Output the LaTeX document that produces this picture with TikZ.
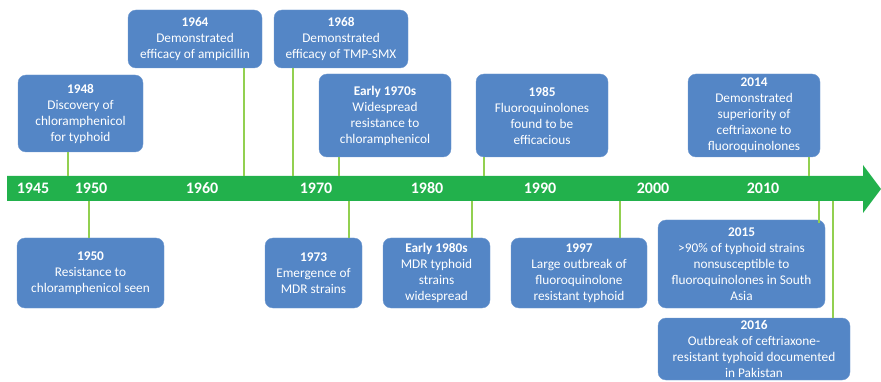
\documentclass[tikz,border=0pt]{standalone}
\usepackage{fontspec}
\setmainfont{Carlito}

\definecolor{barGreen}{RGB}{34,177,76}
\definecolor{stemGreen}{RGB}{146,208,80}
\definecolor{boxBlue}{RGB}{84,134,198}

\begin{document}
\begin{tikzpicture}[x=1pt, y=-1pt,
    event/.style={rectangle, rounded corners=8pt, fill=boxBlue, draw=boxBlue!85!white,
        text=white, align=center, inner sep=2pt,
        font=\fontsize{13.3}{16}\selectfont},
    year/.style={text=white, font=\fontsize{16}{19}\selectfont\bfseries},
    stem/.style={stemGreen, line width=2.2pt}]

\useasboundingbox (0,0) rectangle (881,382);

% Timeline arrow
\fill[barGreen] (7,176) -- (863,176) -- (863,165) -- (881,189)
    -- (863,213) -- (863,201) -- (7,201) -- cycle;

\node[year] (y1945) at (33,188.5) {1945};
\node[year] (y1950) at (91,188.5) {1950};
\node[year] (y1960) at (202,188.5) {1960};
\node[year] (y1970) at (316,188.5) {1970};
\node[year] (y1980) at (427,188.5) {1980};
\node[year] (y1990) at (540,188.5) {1990};
\node[year] (y2000) at (653,188.5) {2000};
\node[year] (y2010) at (763,188.5) {2010};

% Events above the line
\node[event, minimum width=125pt, minimum height=77pt] (b1948) at (80.5,113.5)
    {\textbf{1948}\\Discovery of\\chloramphenicol\\for typhoid};
\node[event, minimum width=134pt, minimum height=58pt] (b1964) at (195,39)
    {\textbf{1964}\\Demonstrated\\efficacy of ampicillin};
\node[event, minimum width=134pt, minimum height=58pt] (b1968) at (341,39)
    {\textbf{1968}\\Demonstrated\\efficacy of TMP-SMX};
\node[event, minimum width=132pt, minimum height=83pt] (b1970s) at (385,115.5)
    {\textbf{Early 1970s}\\Widespread\\resistance to\\chloramphenicol};
\node[event, minimum width=132pt, minimum height=83pt] (b1985) at (542,115.5)
    {\textbf{1985}\\Fluoroquinolones\\found to be\\efficacious};
\node[event, minimum width=132pt, minimum height=83pt] (b2014) at (754,115.5)
    {\textbf{2014}\\Demonstrated\\superiority of\\ceftriaxone to\\fluoroquinolones};

\coordinate (s1948) at (68,176);
\coordinate (s1964) at (244,176);
\coordinate (s1968) at (293,176);
\coordinate (s1970s) at (339,176);
\coordinate (s1985) at (484,176);
\coordinate (s2014) at (809,176);
\draw[stem] (s1948) -- (s1948 |- b1948.south);
\draw[stem] (s1964) -- (s1964 |- b1964.south);
\draw[stem] (s1968) -- (s1968 |- b1968.south);
\draw[stem] (s1970s) -- (s1970s |- b1970s.south);
\draw[stem] (s1985) -- (s1985 |- b1985.south);
\draw[stem] (s2014) -- (s2014 |- b2014.south);

% Events below the line
\node[event, minimum width=147pt, minimum height=70pt] (t1950) at (90.5,273)
    {\textbf{1950}\\Resistance to\\chloramphenicol seen};
\node[event, minimum width=97pt, minimum height=70pt] (t1973) at (313.5,273)
    {\textbf{1973}\\Emergence of\\MDR strains};
\node[event, minimum width=107pt, minimum height=70pt] (t1980s) at (436.5,273)
    {\textbf{Early 1980s}\\MDR typhoid\\strains\\widespread};
\node[event, minimum width=136pt, minimum height=70pt] (t1997) at (579,273)
    {\textbf{1997}\\Large outbreak of\\fluoroquinolone\\resistant typhoid};
\node[event, minimum width=167pt, minimum height=88pt] (t2015) at (741.5,264)
    {\textbf{2015}\\>90\% of typhoid strains\\nonsusceptible to\\fluoroquinolones in South\\Asia};
\node[event, minimum width=192pt, minimum height=62pt] (t2016) at (754,349)
    {\textbf{2016}\\Outbreak of ceftriaxone-\\resistant typhoid documented\\in Pakistan};

\coordinate (s1950) at (89,201);
\coordinate (s1973) at (349,201);
\coordinate (s1980s) at (472,201);
\coordinate (s1997) at (620,201);
\coordinate (s2015) at (819,201);
\coordinate (s2016) at (833,201);
\draw[stem] (s1950) -- (s1950 |- t1950.north);
\draw[stem] (s1973) -- (s1973 |- t1973.north);
\draw[stem] (s1980s) -- (s1980s |- t1980s.north);
\draw[stem] (s1997) -- (s1997 |- t1997.north);
\draw[stem] (s2015) -- ([yshift=-3pt]s2015 |- t2015.north);
\draw[stem] (s2016) -- (s2016 |- t2016.north);
\end{tikzpicture}
\end{document}
